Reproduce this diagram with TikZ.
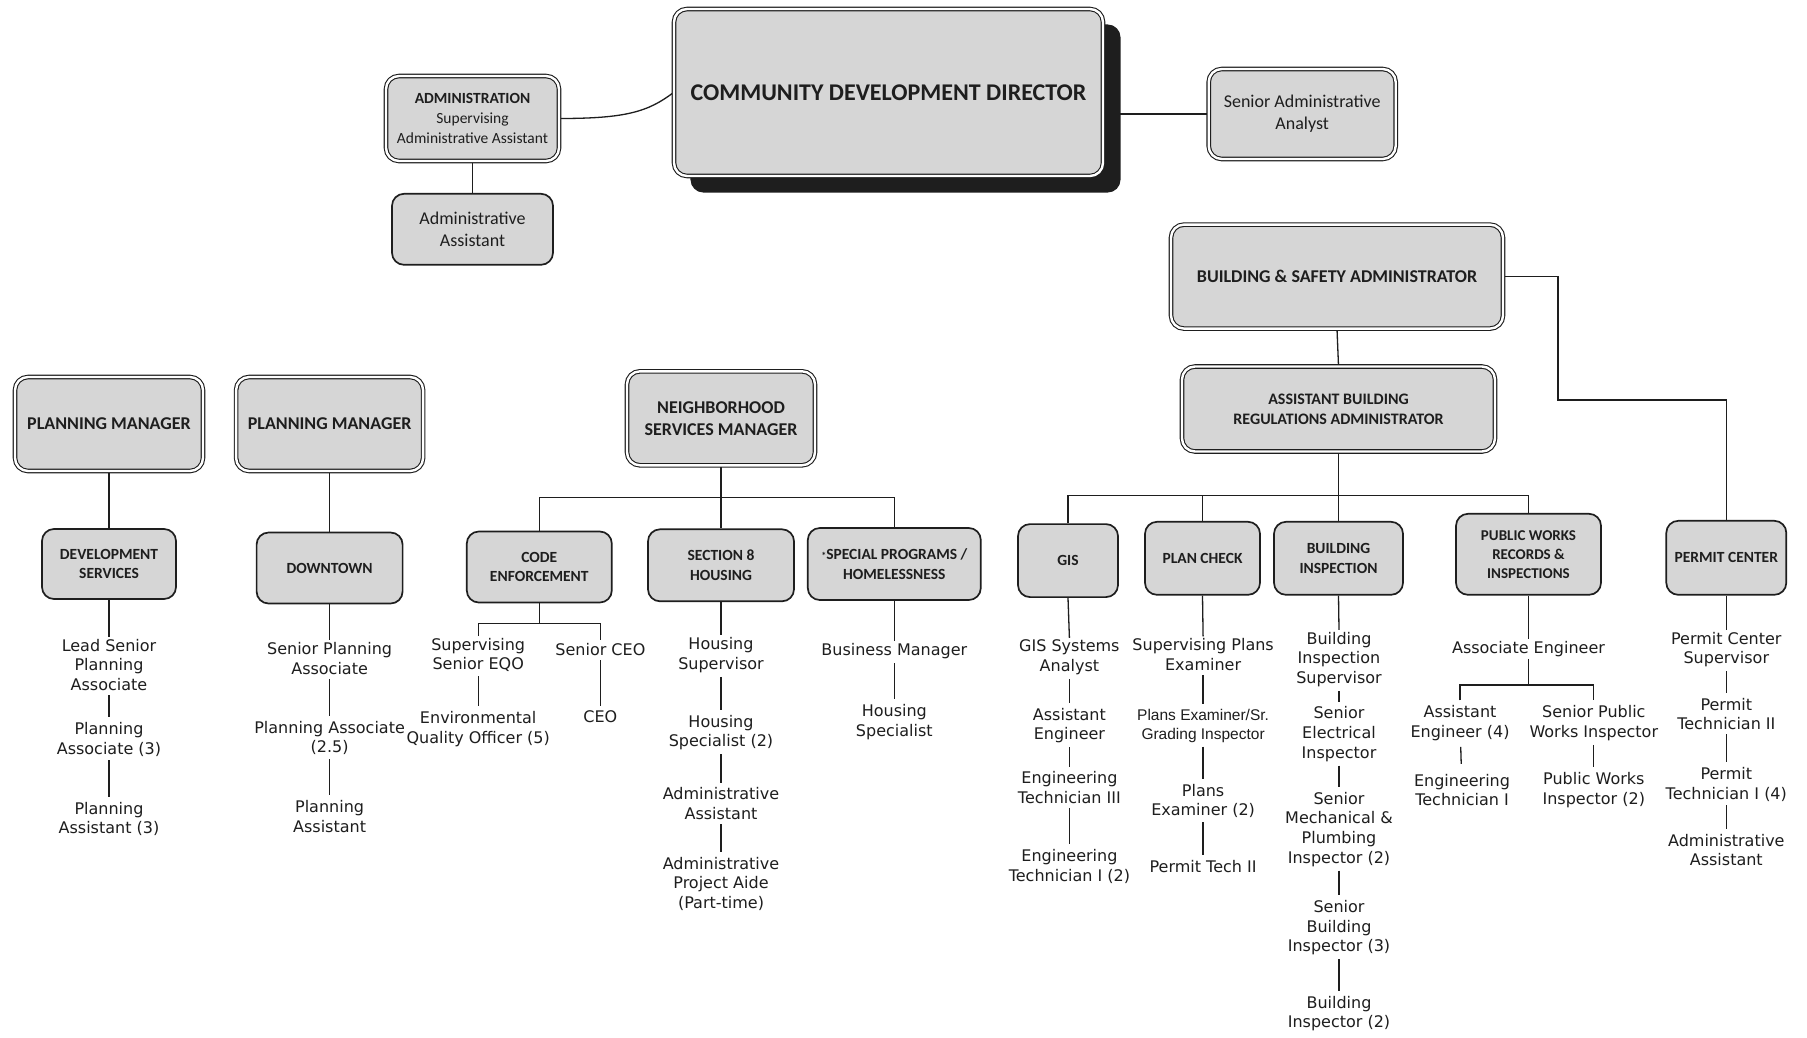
\documentclass[tikz,border=0pt]{standalone}
\usepackage{fontspec}
\setmainfont{Carlito}
\newfontfamily\vfont{DejaVu Sans}
\newfontfamily\lfont{Liberation Sans}
\usetikzlibrary{backgrounds}
\definecolor{boxgray}{HTML}{D6D6D6}
\definecolor{inkc}{HTML}{1E1E1E}
\begin{document}
\begin{tikzpicture}[x=1pt,y=-1pt,
 boxbase/.style={rounded corners=13pt, fill=boxgray, align=center, inner sep=0pt, text=inkc},
 dbox/.style={boxbase, draw=inkc, line width=1.1pt, double=white, double distance=2.4pt},
 sbox/.style={boxbase, draw=inkc, line width=1.7pt, rounded corners=12pt},
 txt/.style={font=\vfont\fontsize{16}{19.6}\selectfont, align=center, inner sep=2pt, text=inkc},
 conn/.style={draw=inkc, line width=1.3pt},
 tconn/.style={conn, shorten <=2pt, shorten >=3pt},
 bigf/.style={font=\bfseries\fontsize{18}{22}\selectfont},
 smf/.style={font=\bfseries\fontsize{15.5}{19.5}\selectfont},
]
\useasboundingbox (0,0) rectangle (1807,1037);

% ---------- boxes ----------
\node[dbox, minimum width=429pt, minimum height=167pt, font=\bfseries\fontsize{24}{28}\selectfont] (dir) at (888.5,92.5) {COMMUNITY DEVELOPMENT DIRECTOR};
\node[dbox, minimum width=173pt, minimum height=85pt, font=\fontsize{15.5}{19.6}\selectfont] (admin) at (472.5,118.5) {\textbf{ADMINISTRATION}\\Supervising\\Administrative Assistant};
\node[sbox, minimum width=161pt, minimum height=71pt, font=\fontsize{18}{22}\selectfont] (aa) at (472.5,229.3) {Administrative\\Assistant};
\node[dbox, minimum width=187pt, minimum height=90pt, font=\fontsize{18}{22}\selectfont] (sra) at (1302.2,114) {Senior Administrative\\Analyst};
\node[dbox, bigf, minimum width=332pt, minimum height=104pt] (bsa) at (1337,276.6) {BUILDING \& SAFETY ADMINISTRATOR};
\node[dbox, minimum width=313pt, minimum height=85pt, font=\bfseries\fontsize{16}{20}\selectfont] (abra) at (1338.5,409) {ASSISTANT BUILDING\\REGULATIONS ADMINISTRATOR};
\node[dbox, bigf, minimum width=188pt, minimum height=94pt] (pm1) at (109,424) {PLANNING MANAGER};
\node[dbox, bigf, minimum width=187pt, minimum height=94pt] (pm2) at (329.6,424) {PLANNING MANAGER};
\node[sbox, smf, minimum width=134pt, minimum height=70pt] (dev) at (109,564) {DEVELOPMENT\\SERVICES};
\node[sbox, smf, minimum width=146pt, minimum height=71pt] (down) at (329.6,568) {DOWNTOWN};
\node[dbox, bigf, minimum width=188pt, minimum height=94pt] (nsm) at (721,418.3) {NEIGHBORHOOD\\SERVICES MANAGER};
\node[sbox, smf, minimum width=145pt, minimum height=71pt] (code) at (539.3,567) {CODE\\ENFORCEMENT};
\node[sbox, smf, minimum width=146pt, minimum height=72pt] (sec8) at (721,565.3) {SECTION 8\\HOUSING};
\node[sbox, smf, minimum width=173pt, minimum height=72pt] (spec) at (894.3,564) {{\fontsize{10}{10}\selectfont*}SPECIAL PROGRAMS /\\HOMELESSNESS};
\node[sbox, smf, minimum width=100pt, minimum height=73pt] (gis) at (1068,560.6) {GIS};
\node[sbox, smf, minimum width=115pt, minimum height=73pt] (plan) at (1202.5,558.3) {PLAN CHECK};
\node[sbox, smf, minimum width=129pt, minimum height=73pt] (bins) at (1338.5,558.3) {BUILDING\\INSPECTION};
\node[sbox, minimum width=145pt, minimum height=81pt, font=\bfseries\fontsize{15}{19}\selectfont] (pw) at (1528.5,554.3) {PUBLIC WORKS\\RECORDS \&\\INSPECTIONS};
\node[sbox, smf, minimum width=120pt, minimum height=74pt] (permit) at (1726.3,557.8) {PERMIT CENTER};

% ---------- text positions ----------
\node[txt] (d1) at (109,665) {Lead Senior\\Planning\\Associate};
\node[txt] (d2) at (109,739.3) {Planning\\Associate (3)};
\node[txt] (d3) at (109,818.8) {Planning\\Assistant (3)};
\node[txt] (t1) at (329.6,658.6) {Senior Planning\\Associate};
\node[txt] (t2) at (329.6,738.1) {Planning Associate\\(2.5)};
\node[txt] (t3) at (329.6,816.5) {Planning\\Assistant};
\node[txt] (c1) at (478.2,655.1) {Supervising\\Senior EQO};
\node[txt] (c2) at (478.2,728.9) {Environmental\\Quality Officer (5)};
\node[txt] (c3) at (600.4,650) {Senior CEO};
\node[txt] (c4) at (600.4,716.8) {CEO};
\node[txt] (s1) at (721,655.1) {Housing\\Supervisor};
\node[txt] (s2) at (721,732.4) {Housing\\Specialist (2)};
\node[txt] (s3) at (721,803.8) {Administrative\\Assistant};
\node[txt] (s4) at (721,883.9) {Administrative\\Project Aide\\(Part-time)};
\node[txt] (p1) at (894.3,651.1) {Business Manager};
\node[txt] (p2) at (894.3,722) {Housing\\Specialist};
\node[txt] (g1) at (1069.4,657.4) {GIS Systems\\Analyst};
\node[txt] (g2) at (1069.4,725.4) {Assistant\\Engineer};
\node[txt] (g3) at (1069.4,787.7) {Engineering\\Technician III};
\node[txt] (g4) at (1069.4,866.6) {Engineering\\Technician I (2)};
\node[txt] (k1) at (1203.1,654.6) {Supervising Plans\\Examiner};
\node[txt, font=\lfont\fontsize{15.5}{18.5}\selectfont] (k2) at (1203.1,726) {Plans Examiner/Sr.\\Grading Inspector};
\node[txt] (k3) at (1203.1,800.9) {Plans\\Examiner (2)};
\node[txt] (k4) at (1203.1,866.6) {Permit Tech II};
\node[txt] (b1) at (1339,659.5) {Building\\Inspection\\Supervisor};
\node[txt] (b2) at (1339,734.1) {Senior\\Electrical\\Inspector};
\node[txt] (b3) at (1339,829.2) {Senior\\Mechanical \&\\Plumbing\\Inspector (2)};
\node[txt] (b4) at (1339,927.7) {Senior\\Building\\Inspector (3)};
\node[txt] (b5) at (1339,1013.5) {Building\\Inspector (2)};
\node[txt] (w1) at (1528.5,648.8) {Associate Engineer};
\node[txt] (w2) at (1460,723.1) {Assistant\\Engineer (4)};
\node[txt] (w3) at (1462,790) {Engineering\\Technician I};
\node[txt] (w4) at (1593.8,723.1) {Senior Public\\Works Inspector};
\node[txt] (w5) at (1593.8,790) {Public Works\\Inspector (2)};
\node[txt] (m1) at (1726.3,649.4) {Permit Center\\Supervisor};
\node[txt] (m2) at (1726.3,713.9) {Permit\\Technician II};
\node[txt] (m3) at (1726.3,784.2) {Permit\\Technician I (4)};
\node[txt] (m4) at (1726.3,849.9) {Administrative\\Assistant};

% ---------- junctions ----------
\coordinate (abj) at (1338.5,495.5);
\coordinate (nsj) at (721,497.8);
\coordinate (cj) at (539.3,623.5);
\coordinate (wj) at (1528.5,685);
\coordinate (pcj) at (1558,400);

\begin{pgfonlayer}{background}
 \fill[white] (0,0) rectangle (1807,1037);
 \draw[conn] (admin.east) .. controls (625,118.5) and (648,112) .. (dir.west);
 \draw[conn] (dir.east |- sra.west) -- (sra.west);
 \draw[conn] (admin.south) -- (aa.north);
 \draw[conn] (bsa.east) -| (pcj) -| (permit.north);
 \draw[conn] (bsa.south) -- (abra.north);
 \draw[conn] (abra.south) -- (bins.north);
 \draw[conn] (gis.north) |- (abj) -| (pw.north);
 \draw[conn] (plan.north) -- (plan.north |- abj);
 \draw[conn] (pm1.south) -- (dev.north);
 \draw[conn] (pm2.south) -- (down.north);
 \draw[conn] (nsm.south) -- (sec8.north);
 \draw[conn] (code.north) |- (nsj) -| (spec.north);
 % box to first position
 \draw[conn] (dev.south) -- (d1.north);
 \draw[conn] (down.south) -- (t1.north);
 \draw[conn] (sec8.south) -- (s1.north);
 \draw[conn] (spec.south) -- (p1.north);
 \draw[conn] (gis.south) -- (g1.north);
 \draw[conn] (plan.south) -- (k1.north);
 \draw[conn] (bins.south) -- (b1.north);
 \draw[conn] (pw.south) -- (w1.north);
 \draw[conn] (permit.south) -- (m1.north);
 \draw[conn] (code.south) -- (cj);
 \draw[conn, shorten >=2pt] (c1.north) |- (cj) -| (c3.north);
 \draw[conn] (w1.south) -- (wj);
 \draw[conn, shorten <=3pt, shorten >=3pt] (w2.north) |- (wj) -| (w4.north);
 % text chains
 \draw[tconn] (d1) -- (d2); \draw[tconn] (d2) -- (d3);
 \draw[tconn] (t1) -- (t2); \draw[tconn] (t2) -- (t3);
 \draw[tconn] (c1) -- (c2); \draw[tconn] (c3) -- (c4);
 \draw[tconn] (s1) -- (s2); \draw[tconn] (s2) -- (s3); \draw[tconn] (s3) -- (s4);
 \draw[tconn] (p1) -- (p2);
 \draw[tconn] (g1) -- (g2); \draw[tconn] (g2) -- (g3); \draw[tconn] (g3) -- (g4);
 \draw[tconn] (k1) -- (k2); \draw[tconn] (k2) -- (k3); \draw[tconn] (k3) -- (k4);
 \draw[tconn] (b1) -- (b2); \draw[tconn] (b2) -- (b3); \draw[tconn] (b3) -- (b4); \draw[tconn] (b4) -- (b5);
 \draw[conn, shorten <=4pt, shorten >=8pt] (w2) -- (w3);
 \draw[tconn] (w4) -- (w5);
 \draw[tconn] (m1) -- (m2); \draw[tconn] (m2) -- (m3); \draw[tconn] (m3) -- (m4);
 % director shadow
 \fill[inkc, rounded corners=13pt] ([shift={(17,16)}]dir.north west) rectangle ([shift={(17,16)}]dir.south east);
\end{pgfonlayer}
\end{tikzpicture}
\end{document}
